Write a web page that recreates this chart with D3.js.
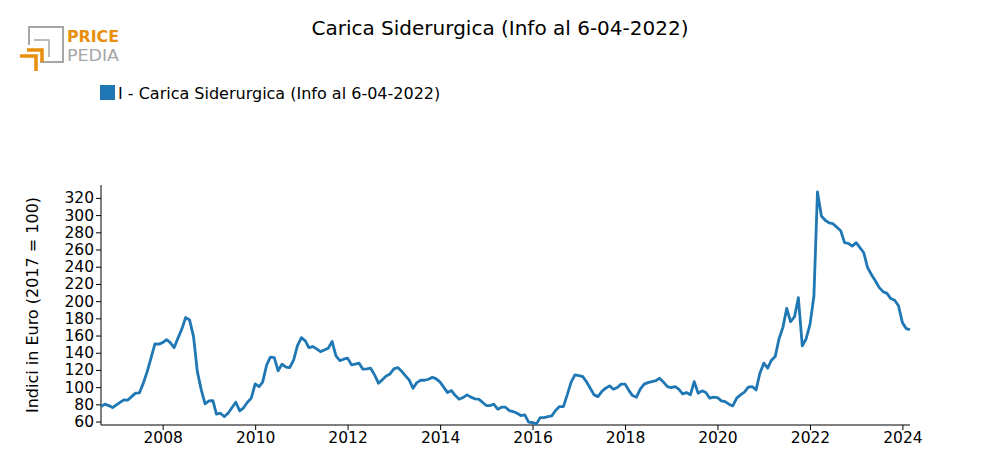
<!DOCTYPE html>
<html><head><meta charset="utf-8">
<script src="https://cdn.jsdelivr.net/npm/d3@7"></script>
<style>
body{margin:0;background:#fff;}
svg text{font-family:"DejaVu Sans",sans-serif;}
</style></head>
<body>
<svg id="chart" width="1000" height="475"></svg>
<script>
const title = "Carica Siderurgica (Info al 6-04-2022)";
const seriesName = "I - Carica Siderurgica (Info al 6-04-2022)";
const yLabel = "Indici in Euro (2017 = 100)";
const startMonth = "2006-09";
const values = [
77.4,80.2,78.6,76.3,79.4,82.5,85.2,85.0,89.0,93.0,93.3,104.6,
118.0,133.7,150.3,150.0,151.8,155.3,151.8,146.0,157.0,167.7,180.9,178.0,
158.8,118.0,96.8,80.6,84.0,84.4,68.6,69.7,65.8,69.7,76.0,82.5,
72.4,76.0,82.5,87.2,103.8,100.7,105.8,125.5,134.8,134.4,119.0,126.7,
123.2,122.8,131.7,148.3,157.6,153.8,146.0,147.2,144.5,141.3,143.3,145.3,
153.0,136.4,130.9,132.5,133.7,125.9,126.7,127.9,120.9,121.2,122.0,114.3,
104.6,108.5,113.0,115.4,121.2,122.8,118.9,113.5,108.5,98.8,105.3,108.0,
108.0,109.2,111.6,109.6,105.8,99.5,93.7,96.0,90.2,86.0,87.9,91.0,
88.4,86.4,86.0,82.5,78.6,78.6,80.2,74.4,76.7,76.7,72.8,71.6,
69.7,67.0,67.8,59.3,58.8,57.3,64.6,64.6,65.8,66.6,72.8,77.4,
77.4,91.0,105.8,114.3,113.5,112.3,106.5,98.8,91.0,89.0,94.9,98.8,
101.5,97.6,99.5,103.5,103.5,96.0,90.2,88.3,97.6,103.5,105.3,106.5,
107.6,110.4,105.8,100.7,99.5,100.7,97.6,92.2,93.7,91.0,106.5,93.0,
95.7,93.7,87.2,88.4,87.9,84.0,83.2,80.2,78.2,87.2,91.0,94.2,
100.0,100.7,96.8,116.2,127.9,122.0,131.0,135.5,156.0,169.5,191.5,176.0,
182.0,204.0,148.0,156.0,173.0,206.0,327.0,299.0,294.0,291.0,290.0,286.0,
281.7,268.0,267.0,264.0,268.0,262.0,256.5,239.0,231.0,223.7,216.0,211.0,
209.0,203.0,201.0,194.6,175.0,168.0,167.0
];
const yTicks = [60,80,100,120,140,160,180,200,220,240,260,280,300,320];
const xTickYears = [2008,2010,2012,2014,2016,2018,2020,2022,2024];

const parse = d3.timeParse("%Y-%m");
const t0 = parse(startMonth);
const data = values.map((v,i)=>({date:d3.timeMonth.offset(t0,i), value:v}));

const svg = d3.select("#chart");
const mLeft = 101, mRight = 910, mTop = 185, mBottom = 425;

const x = d3.scaleTime().domain(d3.extent(data,d=>d.date)).range([mLeft,mRight]);
const y = d3.scaleLinear().domain([56,335]).range([mBottom,mTop]);

// title
svg.append("text").attr("x",500).attr("y",35).attr("text-anchor","middle")
  .attr("font-size","20px").attr("fill","#000").text(title);

// legend
svg.append("rect").attr("x",100).attr("y",85).attr("width",15).attr("height",15).attr("fill","#1f77b4");
svg.append("text").attr("x",118).attr("y",99).attr("font-size","16px").attr("fill","#000").text(seriesName);

// axes
const yAxis = d3.axisLeft(y).tickValues(yTicks).tickSize(5).tickPadding(2).tickFormat(d3.format("d"));
const gy = svg.append("g").attr("transform",`translate(${mLeft},0)`).call(yAxis);
const xAxis = d3.axisBottom(x).tickValues(xTickYears.map(yr=>new Date(yr,0,1))).tickSize(5).tickPadding(2).tickFormat(d3.timeFormat("%Y"));
const gx = svg.append("g").attr("transform",`translate(0,${mBottom})`).call(xAxis);
[gx,gy].forEach(g=>{
  g.selectAll("text").attr("font-size","15.5px").attr("font-family","DejaVu Sans").attr("fill","#000");
  g.selectAll("line").attr("stroke","#000");
  g.select(".domain").attr("stroke","#000");
});
gy.select(".domain").attr("d",`M-0,${mTop}V${mBottom}`);
gx.select(".domain").attr("d",`M${mLeft},0H${mRight}`);

// y label
svg.append("text").attr("transform",`translate(38,${(mTop+mBottom)/2}) rotate(-90)`)
  .attr("text-anchor","middle").attr("font-size","16px").attr("fill","#000").text(yLabel);

// line
const line = d3.line().x(d=>x(d.date)).y(d=>y(d.value));
svg.append("path").datum(data).attr("d",line).attr("fill","none")
  .attr("stroke","#1f77b4").attr("stroke-width",2.8).attr("stroke-linejoin","round");

// logo
const logo = svg.append("g");
logo.append("path").attr("d","M29,45 V27 H63 V62 H40").attr("fill","none").attr("stroke","#a6a6a6").attr("stroke-width",2);
logo.append("path").attr("d","M34,40 H49 V57").attr("fill","none").attr("stroke","#a6a6a6").attr("stroke-width",1.5);
logo.append("path").attr("d","M27,50 H42 V62").attr("fill","none").attr("stroke","#e88f0c").attr("stroke-width",3.5);
logo.append("path").attr("d","M20,56 H36 V71").attr("fill","none").attr("stroke","#e88f0c").attr("stroke-width",3.5);
logo.append("text").attr("x",67).attr("y",42).attr("font-size","16px").attr("font-weight","bold")
  .attr("fill","#e88f0c").attr("textLength",52).attr("lengthAdjust","spacingAndGlyphs").text("PRICE");
logo.append("text").attr("x",67).attr("y",61).attr("font-size","16px")
  .attr("fill","#a6a6a6").attr("textLength",52).attr("lengthAdjust","spacingAndGlyphs").text("PEDIA");
</script>
</body></html>
